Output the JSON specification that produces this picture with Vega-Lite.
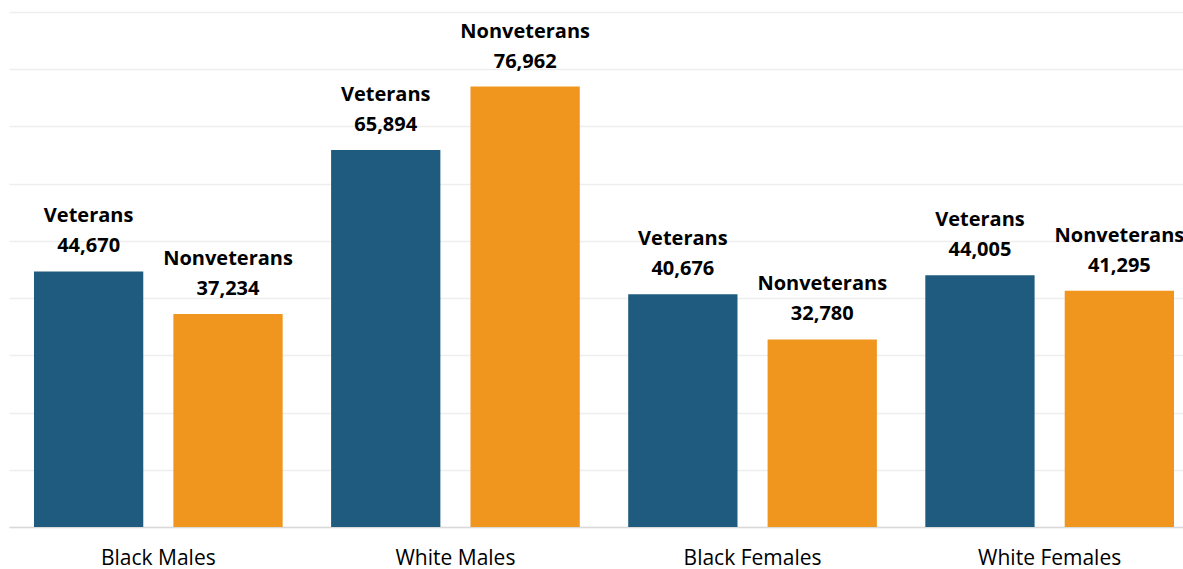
{
  "$schema": "https://vega.github.io/schema/vega-lite/v6.json",
  "autosize": "none",
  "padding": {"left": 9, "top": 12, "right": 0, "bottom": 42},
  "width": 1174,
  "height": 515,
  "background": "white",
  "data": {
    "values": [
      {"group": "Black Males", "type": "Veterans", "value": 44670},
      {"group": "Black Males", "type": "Nonveterans", "value": 37234},
      {"group": "White Males", "type": "Veterans", "value": 65894},
      {"group": "White Males", "type": "Nonveterans", "value": 76962},
      {"group": "Black Females", "type": "Veterans", "value": 40676},
      {"group": "Black Females", "type": "Nonveterans", "value": 32780},
      {"group": "White Females", "type": "Veterans", "value": 44005},
      {"group": "White Females", "type": "Nonveterans", "value": 41295}
    ]
  },
  "encoding": {
    "x": {
      "field": "group", "type": "nominal",
      "sort": ["Black Males", "White Males", "Black Females", "White Females"],
      "scale": {"paddingInner": 0.163, "paddingOuter": 0.0572, "align": 0.735},
      "axis": {
        "title": null, "labelAngle": 0, "ticks": false,
        "domainColor": "#d9d9d9", "domainWidth": 1.5,
        "labelFont": "Open Sans", "labelFontSize": 21, "labelColor": "#000000",
        "labelPadding": 20
      }
    },
    "xOffset": {
      "field": "type", "type": "nominal",
      "sort": ["Veterans", "Nonveterans"],
      "scale": {"paddingInner": 0.216, "paddingOuter": 0}
    },
    "y": {
      "field": "value", "type": "quantitative",
      "scale": {"domain": [0, 90000], "nice": false},
      "axis": {
        "title": null, "labels": false, "ticks": false, "domain": false,
        "values": [0, 10000, 20000, 30000, 40000, 50000, 60000, 70000, 80000, 90000],
        "gridColor": "#eeeeee", "gridWidth": 1.5
      }
    }
  },
  "layer": [
    {
      "mark": {"type": "bar"},
      "encoding": {
        "color": {
          "field": "type", "type": "nominal",
          "scale": {"domain": ["Veterans", "Nonveterans"], "range": ["#1f5b7e", "#f0951e"]},
          "legend": null
        }
      }
    },
    {
      "mark": {"type": "text", "baseline": "alphabetic", "dy": -19, "font": "Open Sans", "fontSize": 20, "fontWeight": "bold", "color": "#000000"},
      "encoding": {"text": {"field": "value", "type": "quantitative", "format": ","}}
    },
    {
      "mark": {"type": "text", "baseline": "alphabetic", "dy": -49, "font": "Open Sans", "fontSize": 20, "fontWeight": "bold", "color": "#000000"},
      "encoding": {"text": {"field": "type", "type": "nominal"}}
    }
  ],
  "config": {"view": {"stroke": null}}
}
